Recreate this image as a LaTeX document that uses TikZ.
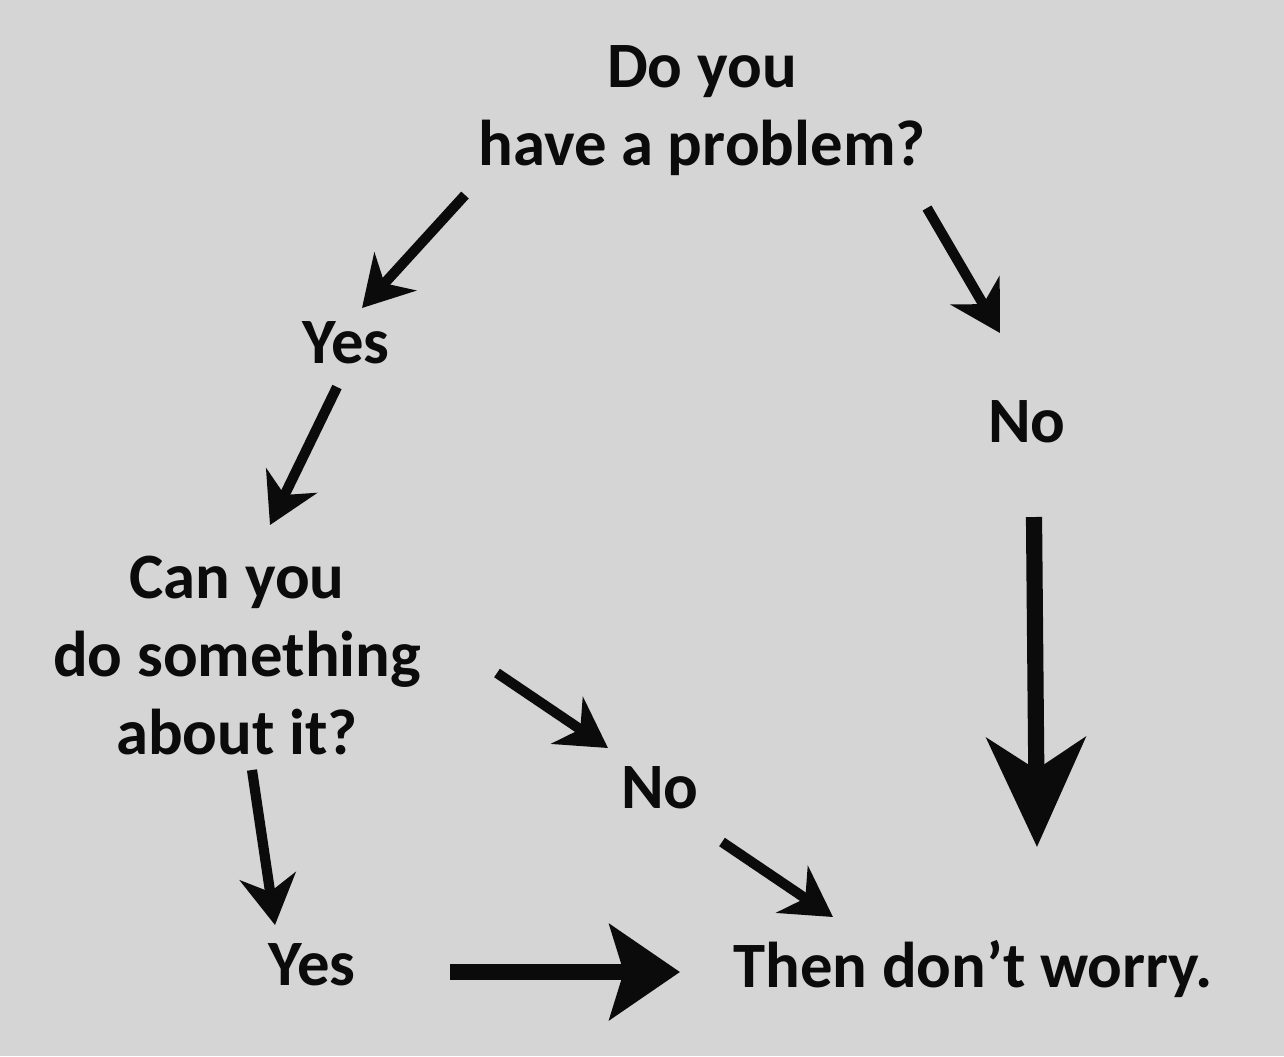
\documentclass[tikz,border=0pt]{standalone}
\usepackage{fontspec}
\setmainfont{Carlito}
\usepackage{xcolor}
\usepackage{tikz}
\usetikzlibrary{arrows.meta}
\definecolor{paper}{HTML}{D5D5D5}
\definecolor{ink}{HTML}{0B0B0B}
\tikzset{
  lab/.style={text=ink, font=\bfseries\fontsize{18.4}{22.2}\selectfont, align=center, inner sep=0pt},
  arr/.style={draw=ink, line width=2.9pt, -{Stealth[length=14pt,width=16pt,inset=4.5pt]}},
  bigdown/.style={draw=ink, line width=4.6pt, -{Stealth[length=31pt,width=28pt,inset=9pt]}},
  bigright/.style={draw=ink, line width=4.6pt, -{Stealth[length=20pt,width=27pt,inset=4pt]}},
}
\begin{document}
\begin{tikzpicture}[x=0.01cm,y=-0.01cm]
  \fill[paper] (0,0) rectangle (1284,1056);
  \useasboundingbox (0,0) rectangle (1284,1056);
  % texts
  \node[lab,anchor=north] (prob) at (702,45) {Do you\\have a problem?};
  \node[lab,anchor=base] (yesA) at (346,363) {Yes};
  \node[lab,anchor=base] (noA) at (1027,442) {No};
  \node[lab,anchor=north] (act) at (237,555) {Can you\\do something\\about it?};
  \node[lab,anchor=base] (noB) at (660,808) {No};
  \node[lab,anchor=base] (yesB) at (312,985) {Yes};
  \node[lab,anchor=base] (calm) at (973,987) {Then don’t worry.};
  % arrow ends
  \coordinate (p1) at (465,195);  \coordinate (q1) at (362,308);
  \coordinate (p2) at (927,208);  \coordinate (q2) at (1000,333);
  \coordinate (p3) at (337,387);  \coordinate (q3) at (270,525);
  \coordinate (p4) at (1034,517); \coordinate (q4) at (1037,847);
  \coordinate (p5) at (497,673);  \coordinate (q5) at (608,748);
  \coordinate (p6) at (252,770);  \coordinate (q6) at (275,925);
  \coordinate (p7) at (722,842);  \coordinate (q7) at (833,917);
  \coordinate (p8) at (450,972);  \coordinate (q8) at (680,972);
  \draw[arr] (p1)--(q1);
  \draw[arr] (p2)--(q2);
  \draw[arr] (p3)--(q3);
  \draw[bigdown] (p4)--(q4);
  \draw[arr] (p5)--(q5);
  \draw[arr] (p6)--(q6);
  \draw[arr] (p7)--(q7);
  \draw[bigright] (p8)--(q8);
\end{tikzpicture}
\end{document}
